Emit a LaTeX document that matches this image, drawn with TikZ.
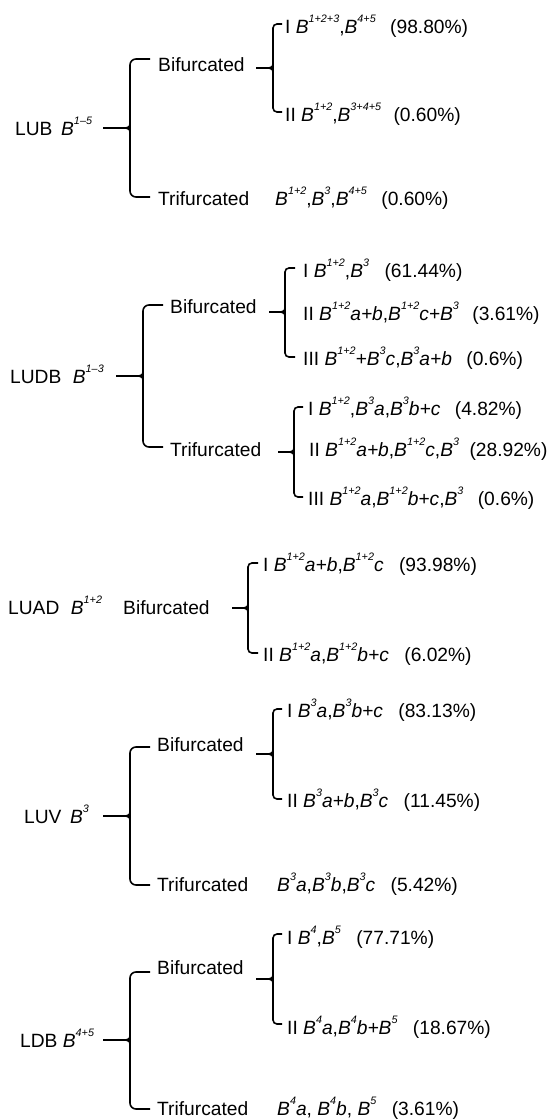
\documentclass[tikz,border=0pt]{standalone}
\usepackage{fontspec}
\setmainfont{Liberation Sans}
\newcommand{\Bp}[1]{\textit{B}\raisebox{0.6em}{\fontsize{10.8pt}{10.8pt}\selectfont\textit{#1}}}
\newcommand{\ii}[1]{\textit{#1}}
\tikzset{
  lbl/.style={anchor=base west, inner sep=0pt, font=\fontsize{19.2pt}{20pt}\selectfont},
  conn/.style={line width=2.2pt},
  br/.style={line width=1.6pt},
}
% name, xstart, xvertical, ytop, ymid, ybottom, xend, radius
\newcommand{\brfork}[8]{%
  \coordinate (#1s) at (#2,#5);
  \coordinate (#1m) at (#3,#5);
  \coordinate (#1a) at (#7,#4);
  \coordinate (#1b) at (#7,#6);
  \draw[conn] (#1s) -- (#1m);
  \draw[br,rounded corners=#8pt] (#1a) -| (#1m);
  \draw[br,rounded corners=#8pt] (#1b) -| (#1m);
  \draw[br] (#3,{#5-6}) .. controls (#3,{#5-1.5}) and ({#3-1},#5) .. ({#3-4},#5);
  \draw[br] (#3,{#5+6}) .. controls (#3,{#5+1.5}) and ({#3-1},#5) .. ({#3-4},#5);
}
\begin{document}
\begin{tikzpicture}[x=1pt,y=-1pt]
\fill[white] (0,0) rectangle (550,1120);
\useasboundingbox (0,0) rectangle (550,1120);

% ---------- LUB ----------
\node[lbl] (lub) at (15,135.7) {LUB\hspace{0.45em}\Bp{1–5}};
\node[lbl] (lubBif) at (158,71.7) {Bifurcated};
\node[lbl] (lubTrif) at (158,205.7) {Trifurcated};
\node[lbl] (lubI) at (285,33.7) {I \Bp{1+2+3},\Bp{4+5}};
\node[lbl] (lubIp) at ([xshift=14pt]lubI.base east) {(98.80\%)};
\node[lbl] (lubII) at (285,121.7) {II \Bp{1+2},\Bp{3+4+5}};
\node[lbl] (lubIIp) at ([xshift=12pt]lubII.base east) {(0.60\%)};
\node[lbl] (lubT) at (275,205.7) {\Bp{1+2},\Bp{3},\Bp{4+5}};
\node[lbl] (lubTp) at ([xshift=14pt]lubT.base east) {(0.60\%)};
\brfork{A}{103}{130}{59}{128}{197}{150}{6}
\brfork{AA}{256}{273}{24}{68}{112}{282}{4}

% ---------- LUDB ----------
\node[lbl] (ludb) at (10,383.7) {LUDB\hspace{0.6em}\Bp{1–3}};
\node[lbl] (ludbBif) at (170,313.7) {Bifurcated};
\node[lbl] (ludbTrif) at (170,456.7) {Trifurcated};
\node[lbl] (ludbBI) at (303,277.7) {I \Bp{1+2},\Bp{3}};
\node[lbl] (ludbBIp) at ([xshift=15pt]ludbBI.base east) {(61.44\%)};
\node[lbl] (ludbBII) at (303,320.7) {II \Bp{1+2}\ii{a+b},\Bp{1+2}\ii{c+}\Bp{3}};
\node[lbl] (ludbBIIp) at ([xshift=13pt]ludbBII.base east) {(3.61\%)};
\node[lbl] (ludbBIII) at (303,365.7) {III \Bp{1+2}\ii{+}\Bp{3}\ii{c},\Bp{3}\ii{a+b}};
\node[lbl] (ludbBIIIp) at ([xshift=14pt]ludbBIII.base east) {(0.6\%)};
\node[lbl] (ludbTI) at (308,415.7) {I \Bp{1+2},\Bp{3}\ii{a},\Bp{3}\ii{b+c}};
\node[lbl] (ludbTIp) at ([xshift=14pt]ludbTI.base east) {(4.82\%)};
\node[lbl] (ludbTII) at (309,456.7) {II \Bp{1+2}\ii{a+b},\Bp{1+2}\ii{c},\Bp{3}};
\node[lbl] (ludbTIIp) at ([xshift=10pt]ludbTII.base east) {(28.92\%)};
\node[lbl] (ludbTIII) at (308,505.7) {III \Bp{1+2}\ii{a},\Bp{1+2}\ii{b+c},\Bp{3}};
\node[lbl] (ludbTIIIp) at ([xshift=14pt]ludbTIII.base east) {(0.6\%)};
\brfork{B}{116}{143}{305}{376}{447}{163}{6}
\brfork{BA}{269}{285}{268}{312}{357}{295}{4}
\brfork{BB}{278}{294}{407}{452}{497}{303}{4}

% ---------- LUAD ----------
\node[lbl] (luad) at (8,614.7) {LUAD\hspace{0.6em}\Bp{1+2}};
\node[lbl] (luadBif) at (123,614.7) {Bifurcated};
\node[lbl] (luadI) at (263,571.7) {I \Bp{1+2}\ii{a+b},\Bp{1+2}\ii{c}};
\node[lbl] (luadIp) at ([xshift=15pt]luadI.base east) {(93.98\%)};
\node[lbl] (luadII) at (263,661.7) {II \Bp{1+2}\ii{a},\Bp{1+2}\ii{b+c}};
\node[lbl] (luadIIp) at ([xshift=15pt]luadII.base east) {(6.02\%)};
\brfork{CA}{232}{248}{563}{608}{653}{258}{4}

% ---------- LUV ----------
\node[lbl] (luv) at (24,823.7) {LUV\hspace{0.45em}\Bp{3}};
\node[lbl] (luvBif) at (157,751.7) {Bifurcated};
\node[lbl] (luvTrif) at (157,891.7) {Trifurcated};
\node[lbl] (luvI) at (287,717.7) {I \Bp{3}\ii{a},\Bp{3}\ii{b+c}};
\node[lbl] (luvIp) at ([xshift=15pt]luvI.base east) {(83.13\%)};
\node[lbl] (luvII) at (287,807.7) {II \Bp{3}\ii{a+b},\Bp{3}\ii{c}};
\node[lbl] (luvIIp) at ([xshift=15pt]luvII.base east) {(11.45\%)};
\node[lbl] (luvT) at (277,891.7) {\Bp{3}\ii{a},\Bp{3}\ii{b},\Bp{3}\ii{c}};
\node[lbl] (luvTp) at ([xshift=15pt]luvT.base east) {(5.42\%)};
\brfork{D}{103}{130}{747}{816}{885}{150}{6}
\brfork{DA}{256}{273}{709}{754}{799}{282}{4}

% ---------- LDB ----------
\node[lbl] (ldb) at (20,1047.7) {LDB \Bp{4+5}};
\node[lbl] (ldbBif) at (157,974.7) {Bifurcated};
\node[lbl] (ldbTrif) at (157,1115.7) {Trifurcated};
\node[lbl] (ldbI) at (287,944.7) {I \Bp{4},\Bp{5}};
\node[lbl] (ldbIp) at ([xshift=15pt]ldbI.base east) {(77.71\%)};
\node[lbl] (ldbII) at (287,1034.7) {II \Bp{4}\ii{a},\Bp{4}\ii{b+}\Bp{5}};
\node[lbl] (ldbIIp) at ([xshift=15pt]ldbII.base east) {(18.67\%)};
\node[lbl] (ldbT) at (277,1115.7) {\Bp{4}\ii{a}, \Bp{4}\ii{b}, \Bp{5}};
\node[lbl] (ldbTp) at ([xshift=15pt]ldbT.base east) {(3.61\%)};
\brfork{E}{103}{130}{972}{1040}{1109}{150}{6}
\brfork{EA}{256}{273}{934}{979}{1024}{282}{4}
\end{tikzpicture}
\end{document}
